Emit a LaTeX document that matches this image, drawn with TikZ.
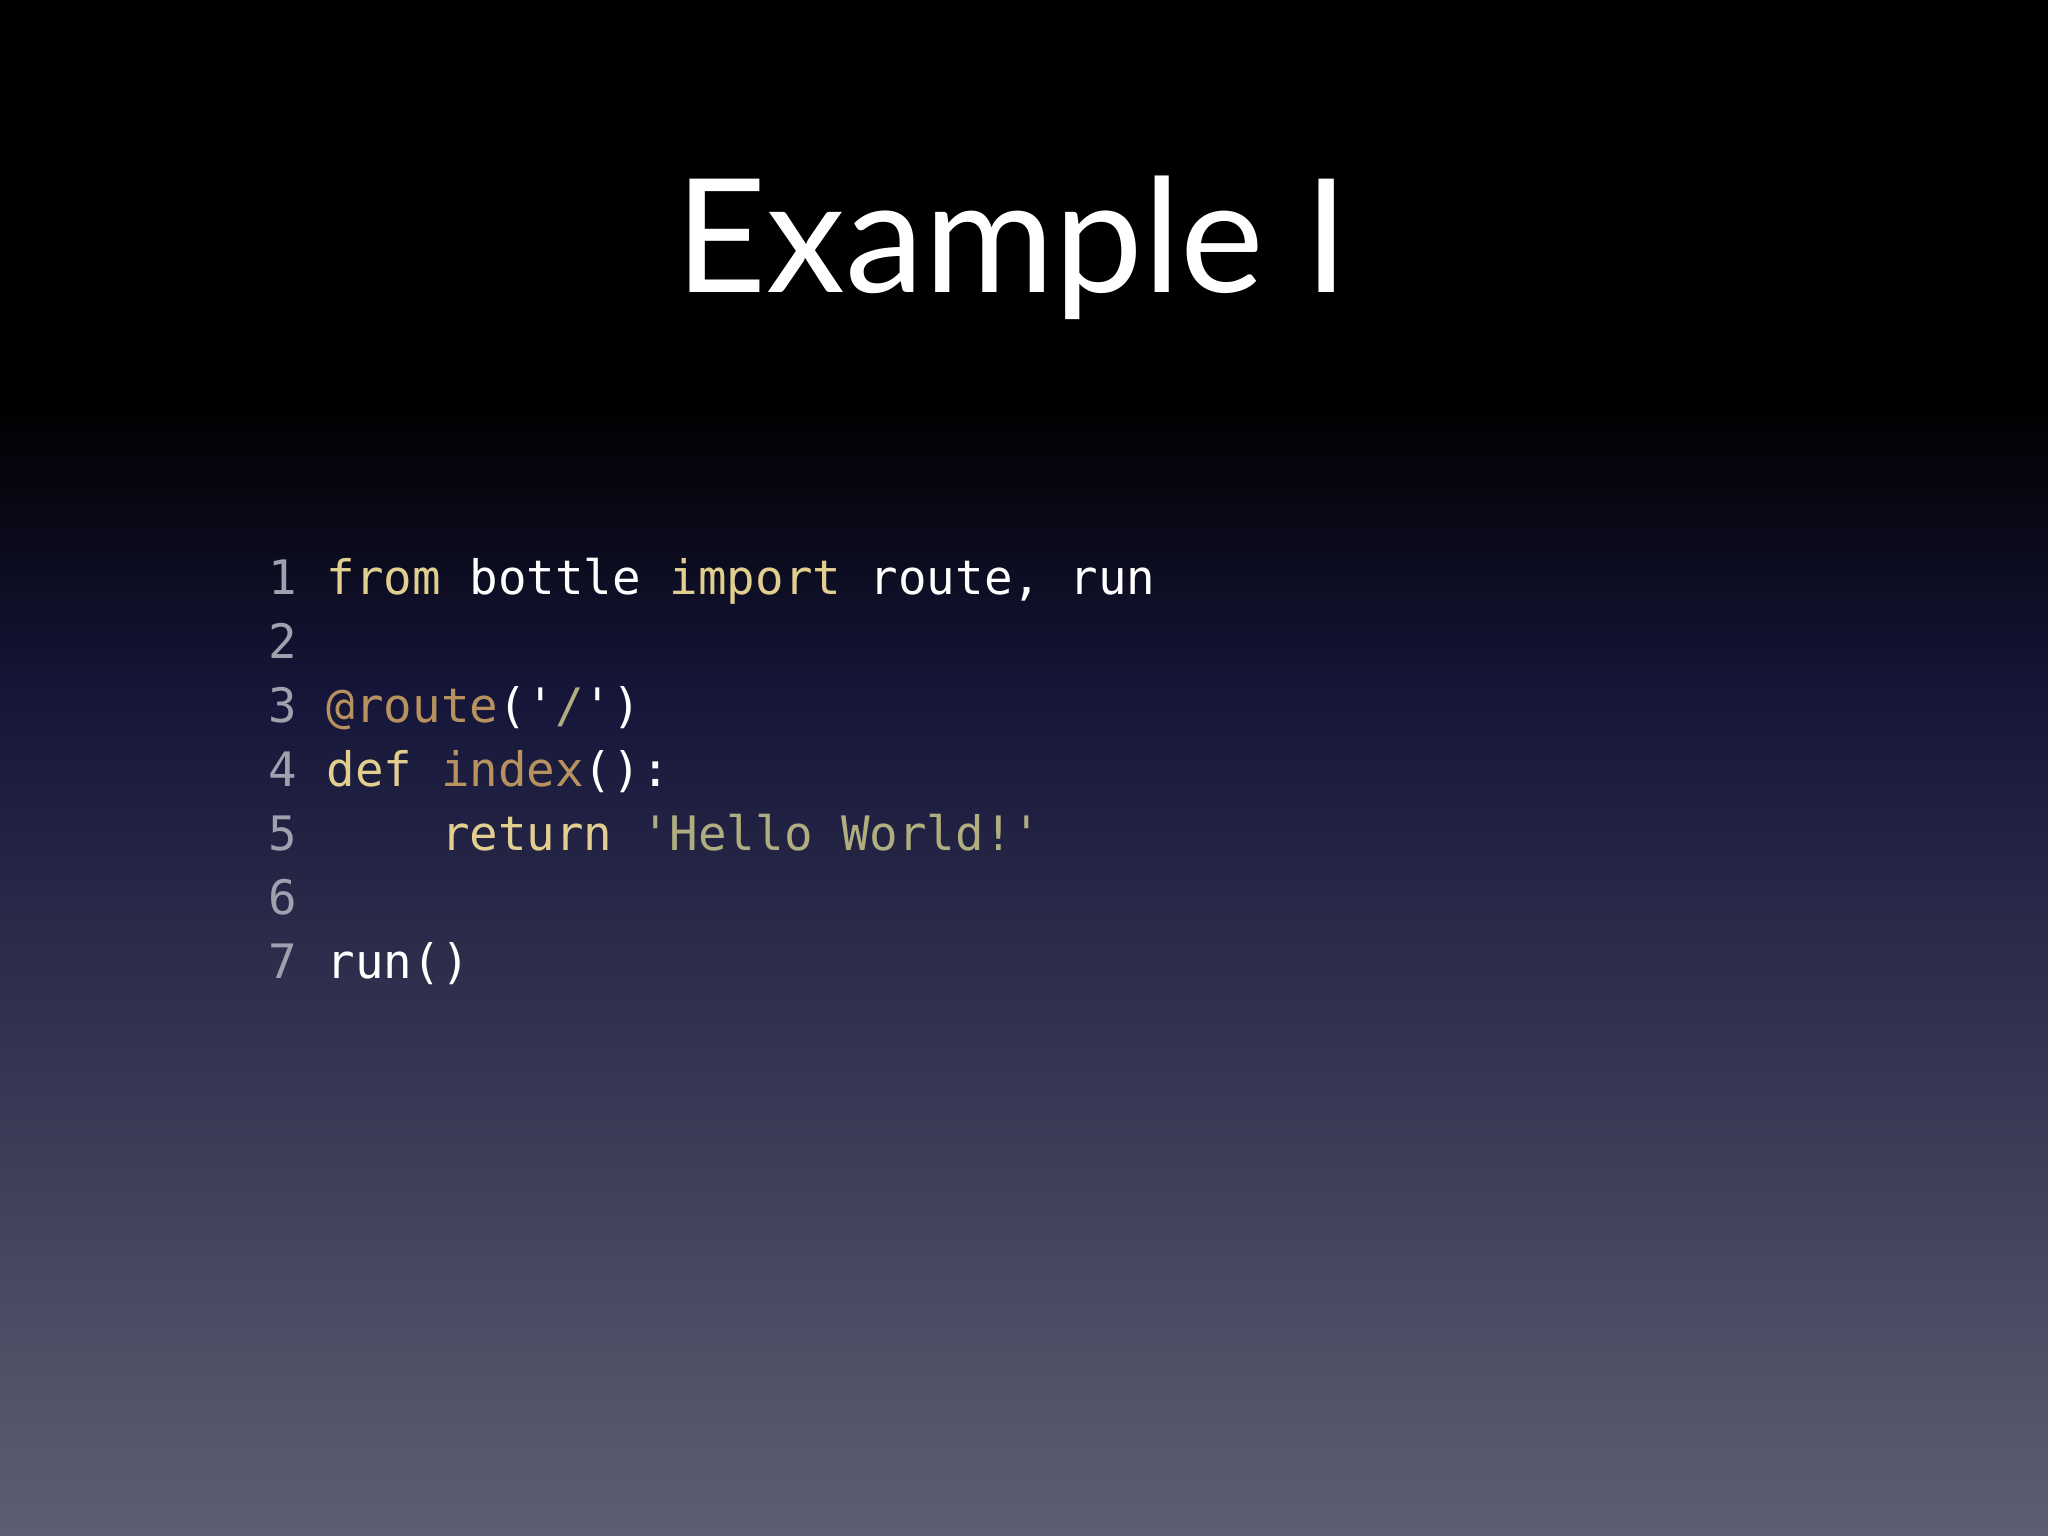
\documentclass[tikz,border=0pt]{standalone}
\usepackage{fontspec}
\setmainfont{Lato}
\setmonofont{DejaVu Sans Mono}
\definecolor{kw}{HTML}{E2CF90}
\definecolor{dec}{HTML}{B8925E}
\definecolor{str}{HTML}{B0AE80}
\definecolor{lnum}{HTML}{A0A0AE}
\definecolor{navy}{HTML}{16163A}
\definecolor{bot}{HTML}{5E5E72}
\tikzset{code/.style={anchor=base west,inner sep=0pt,font=\ttfamily\fontsize{13.5}{16}\selectfont,text=white},
num/.style={anchor=base west,inner sep=0pt,font=\ttfamily\fontsize{13.5}{16}\selectfont,text=lnum}}
\begin{document}
\begin{tikzpicture}[x=0.01cm,y=-0.01cm]
\useasboundingbox (0,0) rectangle (2048,1536);
\fill[black] (0,0) rectangle (2048,400);
\shade[top color=black,bottom color=navy] (0,399) rectangle (2048,700);
\shade[top color=navy,bottom color=bot] (0,699) rectangle (2048,1536);
\node[text=white,font=\fontsize{45}{54}\selectfont] (title) at (1012,248) {Example I};
\foreach \i in {1,...,7} \node[num] (n\i) at (268,594+64*\i-64) {\i};
\node[code] (l1) at (326,594) {\textcolor{kw}{from} bottle \textcolor{kw}{import} route, run};
\node[code] (l3) at (326,722) {\textcolor{dec}{@route}('\textcolor{str}{/}')};
\node[code] (l4) at (326,786) {\textcolor{kw}{def} \textcolor{dec}{index}():};
\node[code] (l5) at (326,850) {\phantom{xxxx}\textcolor{kw}{return} \textcolor{str}{'Hello World!'}};
\node[code] (l7) at (326,978) {run()};
\end{tikzpicture}
\end{document}
